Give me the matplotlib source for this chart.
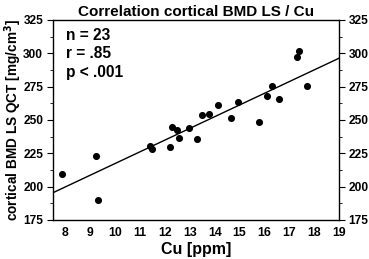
import numpy as np
import matplotlib
matplotlib.use("Agg")
import matplotlib.pyplot as plt
from matplotlib.ticker import MultipleLocator

plt.rcParams['font.family'] = ['Liberation Sans', 'DejaVu Sans']

cu = [7.85, 9.21, 9.31, 11.41, 11.48, 12.19, 12.55, 13.30,
      12.29, 12.50, 12.95, 13.48, 13.79, 14.14, 14.66, 14.93,
      15.77, 16.10, 16.32, 16.58, 17.33, 17.39, 17.71]
bmd = [209.3, 223.3, 190.2, 230.7, 228.2, 230.0, 236.5, 235.5,
       244.8, 242.5, 243.7, 253.5, 254.2, 261.0, 251.7, 263.2,
       248.2, 268.3, 275.2, 265.5, 297.3, 301.5, 275.8]
xticks = list(range(8, 20))
yticks = [175, 200, 225, 250, 275, 300, 325]
stats = ["n = 23", "r = .85", "p < .001"]

fig = plt.figure(figsize=(3.69, 2.59), dpi=100)
ax = fig.add_axes([53/369, 1-220/259, (339-53)/369, 200/259])

x = np.array(cu); y = np.array(bmd)
slope, icpt = np.polyfit(x, y, 1)
xl = np.array([7.5, 19.0])
ax.plot(xl, icpt + slope*xl, color='black', lw=1.0, zorder=2)
ax.scatter(x, y, s=26, color='black', zorder=3, linewidths=0)

ax.set_xlim(7.5, 19)
ax.set_ylim(175, 325)
ax.set_xticks(xticks)
ax.set_yticks(yticks)
ax.yaxis.set_minor_locator(MultipleLocator(12.5))
ax.tick_params(axis='x', length=0, pad=5, labelsize=8.8)
ax.tick_params(axis='y', which='major', direction='out', length=4, width=0.8,
               labelsize=8.6, left=True, right=True, labelleft=True, labelright=True, pad=3)
ax.tick_params(axis='y', which='minor', direction='out', length=2, width=0.6,
               left=True, right=True)
for lab in ax.get_xticklabels() + ax.get_yticklabels():
    lab.set_fontweight('bold')
for s in ax.spines.values():
    s.set_linewidth(1.0)

ax.set_xlabel("Cu [ppm]", fontsize=11.5, fontweight='bold', labelpad=2)
ax.set_ylabel("cortical BMD LS QCT [mg/cm$^\\mathbf{3}$]", fontsize=9.8, fontweight='bold')
ax.yaxis.set_label_coords(-0.103, 0.5)
ax.set_title("Correlation cortical BMD LS / Cu", fontsize=11, fontweight='bold', pad=3)

for i, t in enumerate(stats):
    ax.text(0.045, 0.925 - i*0.094, t, transform=ax.transAxes, fontsize=11.2,
            fontweight='bold', va='center', ha='left')

fig.savefig("out.png", dpi=100)
